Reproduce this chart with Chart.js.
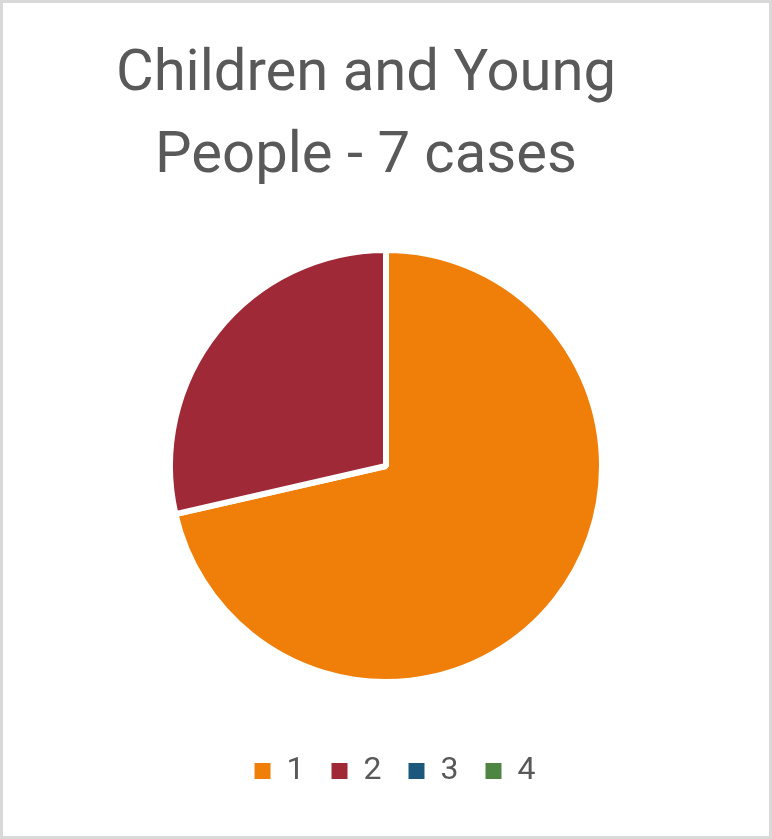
<!DOCTYPE html>
<html>
<head>
<meta charset="utf-8">
<script src="https://cdn.jsdelivr.net/npm/chart.js@4"></script>
<style>
  html, body { margin: 0; padding: 0; background: #fff; }
  #wrap { position: relative; width: 772px; height: 839px; }
  #pieChart { position: absolute; left: 0; top: 0; }
  #frame { position: absolute; left: 0; top: 0; width: 772px; height: 839px; box-sizing: border-box; border: 3px solid #d9d9d9; pointer-events: none; }
</style>
</head>
<body>
<div id="wrap">
  <canvas id="pieChart" width="772" height="839"></canvas>
  <div id="frame"></div>
</div>
<script>
// ===== Data =====
const categories = ['1', '2', '3', '4'];
const caseCounts = [5, 2, 0, 0];
const sliceColors = ['#f07f09', '#9f2936', '#1b587c', '#4e8542'];
const titleLines = ['Children and Young', 'People - 7 cases'];

// ===== Nudge title / legend like the original =====
// title gets a wider box (so the long line isn't squeezed) and sits 20px left
const shiftBoxes = {
  id: 'shiftBoxes',
  afterLayout(chart) {
    const t = chart.titleBlock;
    if (t) { t.left -= 120; t.right += 80; }
    const l = chart.legend;
    if (l) { l.left += 9; l.right += 9; }
  }
};

// ===== Chart =====
const ctx = document.getElementById('pieChart');
new Chart(ctx, {
  type: 'pie',
  data: {
    labels: categories,
    datasets: [{
      data: caseCounts,
      backgroundColor: sliceColors,
      borderColor: '#ffffff',
      borderWidth: 6
    }]
  },
  options: {
    responsive: false,
    animation: false,
    layout: { padding: { left: 167, right: 167, top: 0, bottom: 42 } },
    plugins: {
      title: {
        display: true,
        text: titleLines,
        color: '#595959',
        font: { family: 'Roboto', size: 58, weight: 'normal', lineHeight: '82px' },
        padding: { top: 34, bottom: 6 }
      },
      legend: {
        position: 'bottom',
        labels: {
          boxWidth: 16,
          boxHeight: 16,
          padding: 27,
          color: '#595959',
          font: { family: 'Roboto', size: 32 },
          generateLabels: (chart) =>
            Chart.overrides.pie.plugins.legend.labels.generateLabels(chart)
              .map(item => ({ ...item, lineWidth: 0 }))
        }
      },
      tooltip: { enabled: false }
    }
  },
  plugins: [shiftBoxes]
});
</script>
</body>
</html>
